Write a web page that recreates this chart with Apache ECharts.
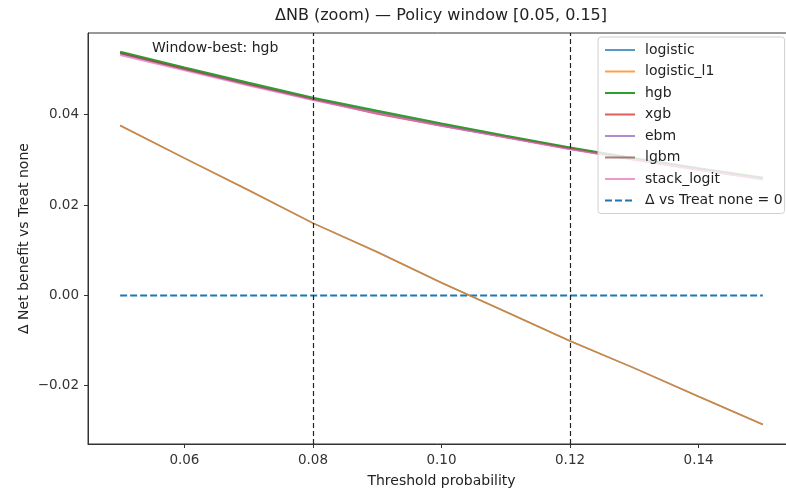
<!DOCTYPE html>
<html>
<head>
<meta charset="utf-8">
<script src="https://cdn.jsdelivr.net/npm/echarts@6/dist/echarts.min.js"></script>
<style>
  html, body { margin: 0; padding: 0; background: #fff; }
  #chart { width: 786px; height: 488px; }
</style>
</head>
<body>
<div id="chart"></div>
<script>
// thresholds in the policy window
var thresholds = [0.05, 0.06, 0.07, 0.08, 0.09, 0.10, 0.11, 0.12, 0.13, 0.14, 0.15];

// delta net benefit vs treat none
var logistic    = [0.0376, 0.0304, 0.0233, 0.0160, 0.0096, 0.0028, -0.0036, -0.0101, -0.0161, -0.0224, -0.0286];
var logistic_l1 = [0.0376, 0.0304, 0.0233, 0.0160, 0.0096, 0.0028, -0.0036, -0.0101, -0.0161, -0.0224, -0.0286];
var hgb         = [0.0539, 0.0504, 0.0470, 0.0437, 0.0408, 0.0380, 0.0353, 0.0327, 0.0303, 0.0281, 0.0260];
var xgb         = [0.0536, 0.0501, 0.0466, 0.0434, 0.0402, 0.0375, 0.0350, 0.0325, 0.0301, 0.0279, 0.0258];
var ebm         = [0.0535, 0.0500, 0.0467, 0.0434, 0.0405, 0.0377, 0.0350, 0.0324, 0.0301, 0.0279, 0.0258];
var lgbm        = [0.0536, 0.0501, 0.0467, 0.0434, 0.0404, 0.0376, 0.0350, 0.0324, 0.0300, 0.0278, 0.0257];
var stack_logit = [0.0532, 0.0498, 0.0464, 0.0432, 0.0403, 0.0375, 0.0349, 0.0323, 0.0300, 0.0278, 0.0257];
var zeroLine    = [0, 0];
var zeroX       = [0.05, 0.15];

var windowEdges = [0.08, 0.12];
var xTicks = [0.06, 0.08, 0.10, 0.12, 0.14];
var yTicks = [-0.02, 0.00, 0.02, 0.04];

var font = 'DejaVu Sans';

function pairs(xs, ys) {
  var out = [];
  for (var i = 0; i < xs.length; i++) out.push([xs[i], ys[i]]);
  return out;
}

function lineSeries(name, vals, color, width, opacity) {
  return {
    name: name,
    type: 'line',
    data: pairs(thresholds, vals),
    symbol: 'none',
    smooth: false,
    color: color,
    lineStyle: { width: width, color: color, opacity: opacity },
    emphasis: { disabled: true },
    z: 3
  };
}

var chart = echarts.init(document.getElementById('chart'));

var option = {
  animation: false,
  textStyle: { fontFamily: font },
  grid: {
    left: 88, top: 33, right: -9, bottom: 44,
    outerBoundsMode: 'none',
    containLabel: false,
    show: true, borderColor: '#333', borderWidth: 1
  },
  graphic: [
    {
      type: 'text', x: 441, y: 16, z: 20,
      style: { text: 'ΔNB (zoom) — Policy window [0.05, 0.15]', font: '16px "DejaVu Sans"', fill: '#222', textAlign: 'center', textVerticalAlign: 'middle' }
    },
    {
      type: 'text', x: 152, y: 48, z: 20,
      style: { text: 'Window-best: hgb', font: '14px "DejaVu Sans"', fill: '#222', textVerticalAlign: 'middle' }
    }
  ],
  legend: {
    orient: 'vertical',
    left: 598, top: 37,
    padding: [6, 2, 6, 6],
    itemWidth: 30, itemHeight: 14, itemGap: 7.5,
    backgroundColor: 'rgba(255,255,255,0.8)',
    borderColor: '#d0d0d0', borderWidth: 1, borderRadius: 3,
    itemStyle: { color: 'rgba(0,0,0,0)', borderWidth: 0, opacity: 0 },
    textStyle: { fontFamily: font, fontSize: 14, color: '#222', padding: [0, 0, 0, 5] },
    data: ['logistic', 'logistic_l1', 'hgb', 'xgb', 'ebm', 'lgbm', 'stack_logit', 'Δ vs Treat none = 0'],
    z: 10
  },
  xAxis: {
    type: 'value',
    min: 0.045, max: 0.155,
    name: 'Threshold probability',
    nameLocation: 'middle', nameGap: 30,
    nameTextStyle: { fontFamily: font, fontSize: 14, color: '#222' },
    axisLine: { onZero: false, lineStyle: { color: '#333' } },
    axisTick: { show: true, length: 4, customValues: xTicks, lineStyle: { color: '#333' } },
    axisLabel: {
      customValues: xTicks, fontSize: 13.5, color: '#333', margin: 9,
      formatter: function (v) { return v.toFixed(2); }
    },
    splitLine: { show: false }
  },
  yAxis: {
    type: 'value',
    min: -0.0329, max: 0.0581,
    name: 'Δ Net benefit vs Treat none',
    nameLocation: 'middle', nameGap: 57,
    nameMoveOverlap: false,
    nameTextStyle: { fontFamily: font, fontSize: 14, color: '#222' },
    axisLine: { show: true, onZero: false, lineStyle: { color: '#333' } },
    axisTick: { show: true, length: 4, customValues: yTicks, lineStyle: { color: '#333' } },
    axisLabel: {
      customValues: yTicks, fontSize: 13.5, color: '#333', margin: 9,
      formatter: function (v) { return (v < 0 ? '\u2212' : '') + Math.abs(v).toFixed(2); }
    },
    splitLine: { show: false }
  },
  series: [
    lineSeries('logistic', logistic, '#1f77b4', 1.6, 0.75),
    lineSeries('logistic_l1', logistic_l1, '#ff7f0e', 1.6, 0.75),
    lineSeries('hgb', hgb, '#2ca02c', 2.6, 1),
    lineSeries('xgb', xgb, '#d62728', 1.6, 0.75),
    lineSeries('ebm', ebm, '#9467bd', 1.6, 0.75),
    lineSeries('lgbm', lgbm, '#8c564b', 1.6, 0.75),
    lineSeries('stack_logit', stack_logit, '#e377c2', 1.6, 0.75),
    {
      name: 'Δ vs Treat none = 0',
      type: 'line',
      data: pairs(zeroX, zeroLine),
      symbol: 'none',
      color: '#1f77b4',
      lineStyle: { width: 2, color: '#1f77b4', type: [7, 3] },
      emphasis: { disabled: true },
      z: 2,
      markLine: {
        silent: true,
        symbol: 'none',
        label: { show: false },
        lineStyle: { color: '#222', width: 1.2, type: [5, 3] },
        data: windowEdges.map(function (x) { return { xAxis: x }; })
      }
    }
  ]
};

chart.setOption(option);
</script>
</body>
</html>
